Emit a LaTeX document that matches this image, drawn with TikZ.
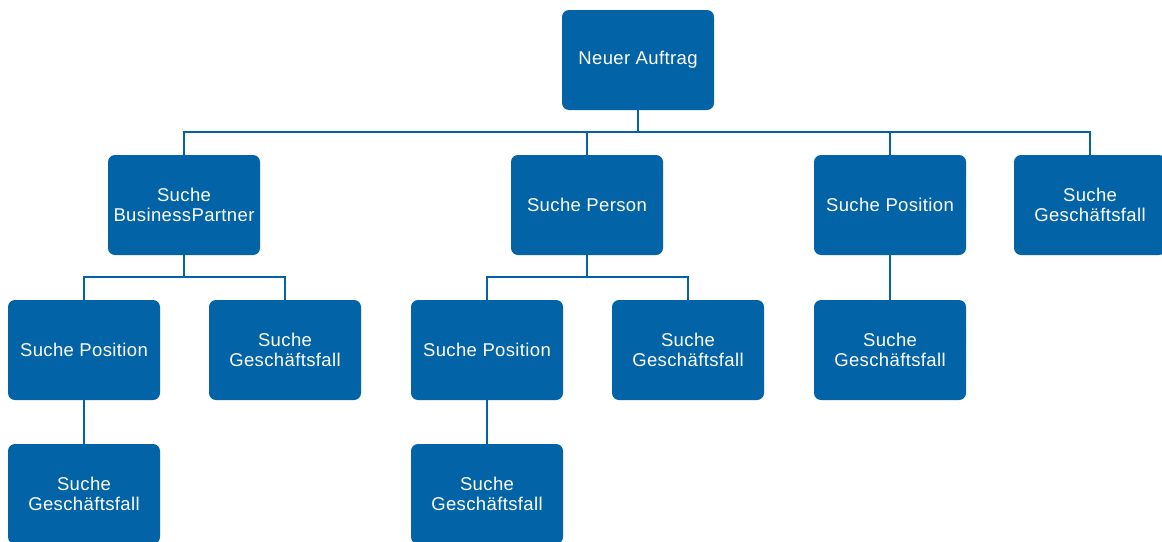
\documentclass[tikz,border=0pt]{standalone}
\usepackage{fontspec}
\setmainfont{Liberation Sans}[LetterSpace=2]
\definecolor{boxblue}{RGB}{2,99,166}
\begin{document}
\begin{tikzpicture}[x=1pt,y=-1pt,
  box/.style={draw=none,fill=boxblue,rounded corners=7pt,minimum width=152pt,minimum height=100pt,
    text=white,align=center,inner sep=0pt,font=\fontsize{18.5}{19.5}\selectfont},
  link/.style={draw=boxblue,line width=2.2pt}]
\useasboundingbox (0,0) rectangle (1162,541);
\begin{scope}
\clip (0,0) rectangle (1162,541);
\node[box] (root) at (638,60) {\raisebox{-1.5pt}{Neuer Auftrag}};
\node[box] (bp) at (184,205) {Suche\\BusinessPartner};
\node[box] (pe) at (587,205) {\raisebox{-1.5pt}{Suche Person}};
\node[box] (po) at (890,205) {\raisebox{-1.5pt}{Suche Position}};
\node[box] (gf) at (1090,205) {Suche\\Geschäftsfall};
\node[box] (bppo) at (84,350) {\raisebox{-1.5pt}{Suche Position}};
\node[box] (bpgf) at (285,350) {Suche\\Geschäftsfall};
\node[box] (pepo) at (487,350) {\raisebox{-1.5pt}{Suche Position}};
\node[box] (pegf) at (688,350) {Suche\\Geschäftsfall};
\node[box] (pogf) at (890,350) {Suche\\Geschäftsfall};
\node[box] (bppogf) at (84,494) {Suche\\Geschäftsfall};
\node[box] (pepogf) at (487,494) {Suche\\Geschäftsfall};
\coordinate (bus1) at (0,132);
\coordinate (bus2) at (0,277);
\draw[link] (root.south) |- (bus1 -| bp.north) -- (bp.north);
\draw[link] (root.south) |- (bus1 -| gf.north) -- (gf.north);
\draw[link] (bus1 -| pe.north) -- (pe.north);
\draw[link] (bus1 -| po.north) -- (po.north);
\draw[link] (bp.south) |- (bus2 -| bppo.north) -- (bppo.north);
\draw[link] (bp.south) |- (bus2 -| bpgf.north) -- (bpgf.north);
\draw[link] (pe.south) |- (bus2 -| pepo.north) -- (pepo.north);
\draw[link] (pe.south) |- (bus2 -| pegf.north) -- (pegf.north);
\draw[link] (po.south) -- (pogf.north);
\draw[link] (bppo.south) -- (bppogf.north);
\draw[link] (pepo.south) -- (pepogf.north);
\end{scope}
\end{tikzpicture}
\end{document}
